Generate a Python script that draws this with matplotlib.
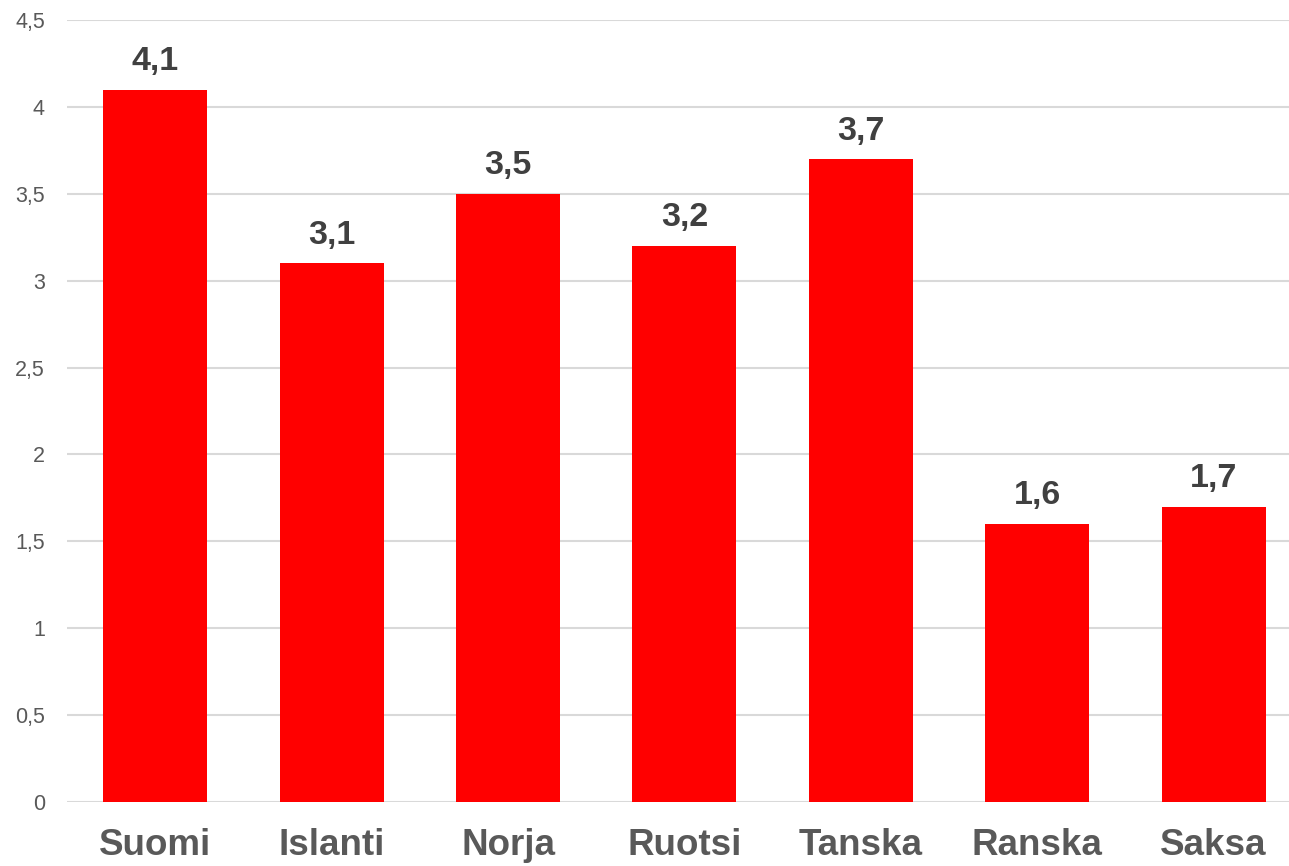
import matplotlib.pyplot as plt

plt.rcParams['font.family'] = ['Liberation Sans', 'DejaVu Sans']

countries = ["Suomi", "Islanti", "Norja", "Ruotsi", "Tanska", "Ranska", "Saksa"]
values = [4.1, 3.1, 3.5, 3.2, 3.7, 1.6, 1.7]
y_ticks = [0, 0.5, 1, 1.5, 2, 2.5, 3, 3.5, 4, 4.5]
y_tick_labels = ["0", "0,5", "1", "1,5", "2", "2,5", "3", "3,5", "4", "4,5"]

W, H = 1289, 866
fig = plt.figure(figsize=(W / 100, H / 100), dpi=100)
# plot area: x from 67 px, 7 categories of ~176.4 px; y from 802 (0) to 20 (4.5)
ax = fig.add_axes([67 / W, (H - 802) / H, (7 * 176.4) / W, (802 - 20) / H])

x = range(len(countries))
bars = ax.bar(x, values, width=0.59, color="#ff0000", zorder=3)

for xi, v in zip(x, values):
    ax.annotate(f"{v:.1f}".replace(".", ","), (xi, v), xytext=(0, 9),
                textcoords="offset points", ha="center", va="bottom",
                fontsize=24.5, fontweight="bold", color="#404040")

ax.set_xlim(-0.5, len(countries) - 0.5)
ax.set_ylim(0, 4.5)
ax.set_yticks(y_ticks)
ax.set_yticklabels(y_tick_labels, fontsize=15.5, color="#595959")
ax.set_xticks(list(x))
ax.set_xticklabels(countries, fontsize=26.5, fontweight="bold", color="#595959")
ax.tick_params(axis="both", length=0)
ax.tick_params(axis="x", pad=19)
ax.tick_params(axis="y", pad=16)

ax.grid(axis="y", color="#d9d9d9", linewidth=1.5, zorder=0)
for s in ax.spines.values():
    s.set_visible(False)

fig.savefig("out.png", dpi=100)
